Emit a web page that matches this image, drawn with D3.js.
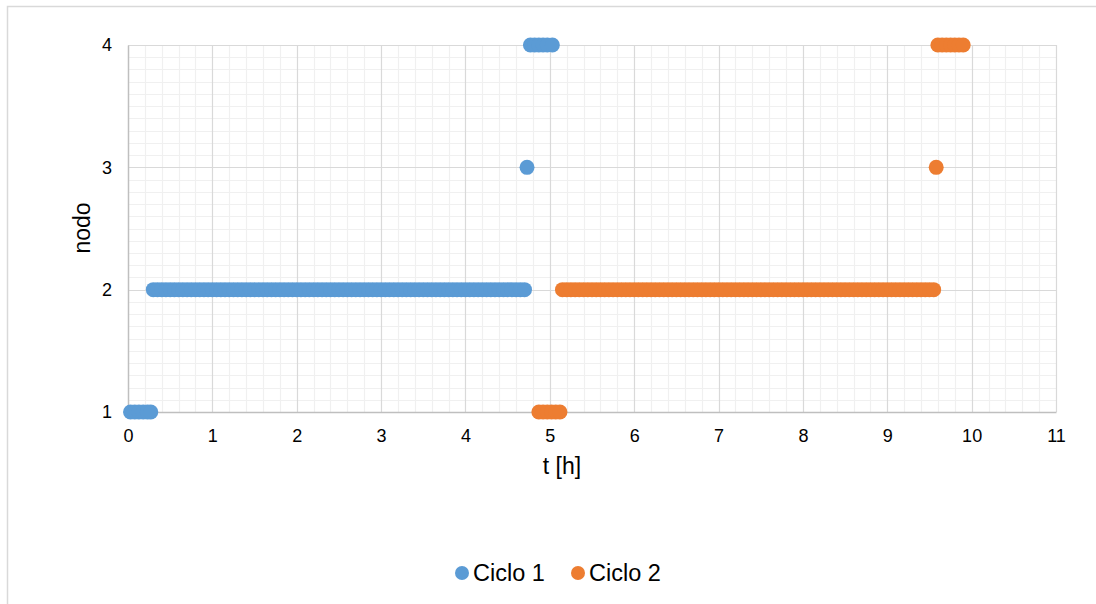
<!DOCTYPE html>
<html>
<head>
<meta charset="utf-8">
<script src="https://cdn.jsdelivr.net/npm/d3@7"></script>
<style>
  body { margin: 0; background: #fff; }
  text { font-family: "Liberation Sans", Arial, sans-serif; fill: #000; }
</style>
</head>
<body>
<div id="vis"></div>
<script>
// Tick values
const xTicks = [0, 1, 2, 3, 4, 5, 6, 7, 8, 9, 10, 11];
const yTicks = [1, 2, 3, 4];

// Ciclo 1: sample times (h) at each node
const c1Node1 = [0.03, 0.08, 0.13, 0.18, 0.23, 0.27];
const c1Node2 = [
  0.30, 0.35, 0.40, 0.45, 0.50, 0.55, 0.60, 0.65, 0.70, 0.75,
  0.80, 0.85, 0.90, 0.95, 1.00, 1.05, 1.10, 1.15, 1.20, 1.25,
  1.30, 1.35, 1.40, 1.45, 1.50, 1.55, 1.60, 1.65, 1.70, 1.75,
  1.80, 1.85, 1.90, 1.95, 2.00, 2.05, 2.10, 2.15, 2.20, 2.25,
  2.30, 2.35, 2.40, 2.45, 2.50, 2.55, 2.60, 2.65, 2.70, 2.75,
  2.80, 2.85, 2.90, 2.95, 3.00, 3.05, 3.10, 3.15, 3.20, 3.25,
  3.30, 3.35, 3.40, 3.45, 3.50, 3.55, 3.60, 3.65, 3.70, 3.75,
  3.80, 3.85, 3.90, 3.95, 4.00, 4.05, 4.10, 4.15, 4.20, 4.25,
  4.30, 4.35, 4.40, 4.45, 4.50, 4.55, 4.60, 4.65, 4.70
];
const c1Node3 = [4.73];
const c1Node4 = [4.77, 4.82, 4.87, 4.92, 4.97, 5.03];

// Ciclo 2: sample times (h) at each node
const c2Node1 = [4.87, 4.92, 4.97, 5.02, 5.07, 5.12];
const c2Node2 = [
  5.15, 5.20, 5.25, 5.30, 5.35, 5.40, 5.45, 5.50, 5.55, 5.60,
  5.65, 5.70, 5.75, 5.80, 5.85, 5.90, 5.95, 6.00, 6.05, 6.10,
  6.15, 6.20, 6.25, 6.30, 6.35, 6.40, 6.45, 6.50, 6.55, 6.60,
  6.65, 6.70, 6.75, 6.80, 6.85, 6.90, 6.95, 7.00, 7.05, 7.10,
  7.15, 7.20, 7.25, 7.30, 7.35, 7.40, 7.45, 7.50, 7.55, 7.60,
  7.65, 7.70, 7.75, 7.80, 7.85, 7.90, 7.95, 8.00, 8.05, 8.10,
  8.15, 8.20, 8.25, 8.30, 8.35, 8.40, 8.45, 8.50, 8.55, 8.60,
  8.65, 8.70, 8.75, 8.80, 8.85, 8.90, 8.95, 9.00, 9.05, 9.10,
  9.15, 9.20, 9.25, 9.30, 9.35, 9.40, 9.45, 9.50, 9.55
];
const c2Node3 = [9.58];
const c2Node4 = [9.60, 9.65, 9.70, 9.75, 9.80, 9.85, 9.90];

const seriesNames = ["Ciclo 1", "Ciclo 2"];
const seriesColors = ["#5b9bd5", "#ed7d31"];

function toPoints(runs) {
  const pts = [];
  runs.forEach(([node, times]) => times.forEach(t => pts.push({ t: t, n: node })));
  return pts;
}

const series = [
  toPoints([[1, c1Node1], [2, c1Node2], [3, c1Node3], [4, c1Node4]]),
  toPoints([[1, c2Node1], [2, c2Node2], [3, c2Node3], [4, c2Node4]])
];

const W = 1096, H = 604;
const margin = { top: 45, right: 40, bottom: 192, left: 128 };
const width = W - margin.left - margin.right;
const height = H - margin.top - margin.bottom;

const svg = d3.select("#vis").append("svg")
  .attr("width", W)
  .attr("height", H);

// chart area border
svg.append("rect")
  .attr("x", 7.5).attr("y", 6.5)
  .attr("width", W + 10).attr("height", H + 10)
  .attr("fill", "#fff")
  .attr("stroke", "#d9d9d9")
  .attr("stroke-width", 1.5);

const g = svg.append("g")
  .attr("transform", `translate(${margin.left},${margin.top})`);

const x = d3.scaleLinear().domain([0, 11]).range([0, width]);
const y = d3.scaleLinear().domain([1, 4]).range([height, 0]);

// minor gridlines
const xMinor = d3.range(0, 55).map(i => i * 0.2).filter(v => Math.abs(v - Math.round(v)) > 1e-6);
const yMinor = d3.range(10, 40).map(i => i / 10).filter(v => Math.abs(v - Math.round(v)) > 1e-6);

g.selectAll(".xminor")
  .data(xMinor)
  .join("line")
  .attr("x1", d => Math.round(x(d)) + 0.5).attr("x2", d => Math.round(x(d)) + 0.5)
  .attr("y1", 0).attr("y2", height)
  .attr("stroke", "#f0f0f0").attr("stroke-width", 1.2);

g.selectAll(".yminor")
  .data(yMinor)
  .join("line")
  .attr("y1", d => Math.round(y(d)) + 0.5).attr("y2", d => Math.round(y(d)) + 0.5)
  .attr("x1", 0).attr("x2", width)
  .attr("stroke", "#f0f0f0").attr("stroke-width", 1.2);

// major gridlines
g.selectAll(".xmajor")
  .data(xTicks.slice(1))
  .join("line")
  .attr("x1", d => Math.round(x(d)) + 0.5).attr("x2", d => Math.round(x(d)) + 0.5)
  .attr("y1", 0).attr("y2", height)
  .attr("stroke", "#d9d9d9").attr("stroke-width", 1.2);

g.selectAll(".ymajor")
  .data(yTicks.slice(1))
  .join("line")
  .attr("y1", d => Math.round(y(d)) + 0.5).attr("y2", d => Math.round(y(d)) + 0.5)
  .attr("x1", 0).attr("x2", width)
  .attr("stroke", "#d9d9d9").attr("stroke-width", 1.2);

// axes
const xAxis = g.append("g")
  .attr("transform", `translate(0,${height})`)
  .call(d3.axisBottom(x).tickValues(xTicks).tickSize(0).tickPadding(17).tickFormat(d3.format("d")));
const yAxis = g.append("g")
  .call(d3.axisLeft(y).tickValues(yTicks).tickSize(0).tickPadding(16).tickFormat(d3.format("d")));

[xAxis, yAxis].forEach(a => {
  a.select(".domain").attr("stroke", "#bfbfbf").attr("stroke-width", 1.5);
  a.selectAll("text")
    .attr("font-family", "Liberation Sans, Arial, sans-serif")
    .attr("font-size", "18px")
    .attr("fill", "#000");
});

// markers
series.forEach((pts, i) => {
  g.append("g")
    .selectAll("circle")
    .data(pts)
    .join("circle")
    .attr("cx", d => x(d.t))
    .attr("cy", d => y(d.n))
    .attr("r", 7.5)
    .attr("fill", seriesColors[i]);
});

// axis titles
svg.append("text")
  .attr("x", 562)
  .attr("y", 474)
  .attr("text-anchor", "middle")
  .attr("font-size", "23px")
  .text("t [h]");

svg.append("text")
  .attr("transform", "rotate(-90)")
  .attr("x", -228)
  .attr("y", 90)
  .attr("text-anchor", "middle")
  .attr("font-size", "23px")
  .text("nodo");

// legend
const legendX = [462, 578];
const legend = svg.append("g");
seriesNames.forEach((name, i) => {
  legend.append("circle")
    .attr("cx", legendX[i]).attr("cy", 573)
    .attr("r", 7)
    .attr("fill", seriesColors[i]);
  legend.append("text")
    .attr("x", legendX[i] + 11).attr("y", 573)
    .attr("dy", "0.35em")
    .attr("font-size", "23.5px")
    .text(name);
});
</script>
</body>
</html>
